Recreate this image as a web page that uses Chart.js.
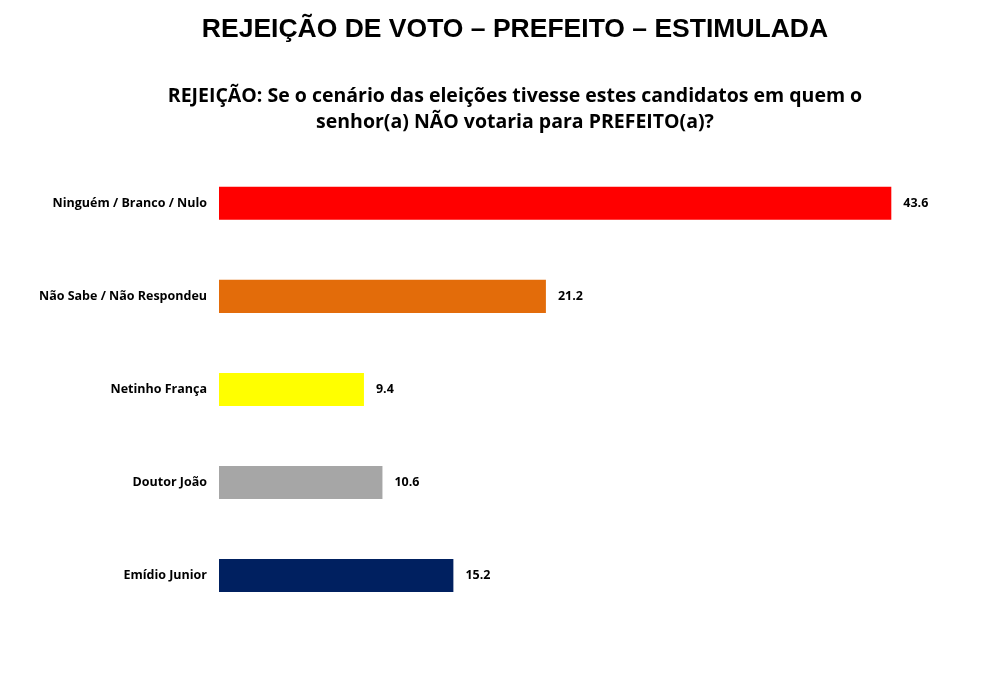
<!DOCTYPE html>
<html>
<head>
<meta charset="utf-8">
<script src="https://cdn.jsdelivr.net/npm/chart.js@4"></script>
<style>
  html, body { margin: 0; padding: 0; background: #fff; }
  #wrap { width: 993px; height: 684px; }
</style>
</head>
<body>
<div id="wrap"><canvas id="myChart" width="993" height="684"></canvas></div>
<script>
// 데이터
const categories = [
  "Ninguém / Branco / Nulo",
  "Não Sabe / Não Respondeu",
  "Netinho França",
  "Doutor João",
  "Emídio Junior",
];
const values = [43.6, 21.2, 9.4, 10.6, 15.2];
const barColors = ["#FF0000", "#E36C0A", "#FFFF00", "#A6A6A6", "#002060"];

const titleText = "REJEIÇÃO DE VOTO – PREFEITO – ESTIMULADA";
const subtitleLines = [
  "REJEIÇÃO: Se o cenário das eleições tivesse estes candidatos em quem o",
  "senhor(a) NÃO votaria para PREFEITO(a)?",
];

// 막대 끝에 값 표시
const valueLabels = {
  id: "valueLabels",
  afterDatasetsDraw(chart) {
    const ctx = chart.ctx;
    const meta = chart.getDatasetMeta(0);
    ctx.save();
    ctx.font = "bold 12.5px 'Open Sans'";
    ctx.fillStyle = "#000";
    ctx.textAlign = "left";
    ctx.textBaseline = "middle";
    meta.data.forEach((bar, i) => {
      ctx.fillText(values[i].toFixed(1), bar.x + 12, bar.y);
    });
    ctx.restore();
  },
};

const ctx = document.getElementById("myChart").getContext("2d");
const myChart = new Chart(ctx, {
  type: "bar",
  data: {
    labels: categories,
    datasets: [
      {
        data: values,
        backgroundColor: barColors,
        borderWidth: 0,
        categoryPercentage: 1,
        barPercentage: 0.355,
      },
    ],
  },
  options: {
    indexAxis: "y",
    responsive: false,
    animation: false,
    layout: {
      padding: { left: 40, right: 3, top: 0, bottom: 62 },
    },
    plugins: {
      legend: { display: false },
      tooltip: { enabled: false },
      title: {
        display: true,
        text: titleText,
        color: "#000",
        font: { family: "'Liberation Sans'", size: 26.5, weight: "bold", lineHeight: 1.2 },
        padding: { top: 14, bottom: 37 },
      },
      subtitle: {
        display: true,
        text: subtitleLines,
        color: "#000",
        font: { family: "'Open Sans'", size: 19.5, weight: "bold", lineHeight: 1.36 },
        padding: { top: 0, bottom: 21 },
      },
    },
    scales: {
      x: {
        display: false,
        min: 0,
        max: 50,
      },
      y: {
        grid: { display: false, drawTicks: false },
        border: { display: false },
        ticks: {
          color: "#000",
          padding: 12,
          font: { family: "'Open Sans'", size: 12.5, weight: "bold" },
        },
        afterFit(scale) {
          scale.width = 179;
        },
      },
    },
  },
  plugins: [valueLabels],
});
</script>
</body>
</html>
